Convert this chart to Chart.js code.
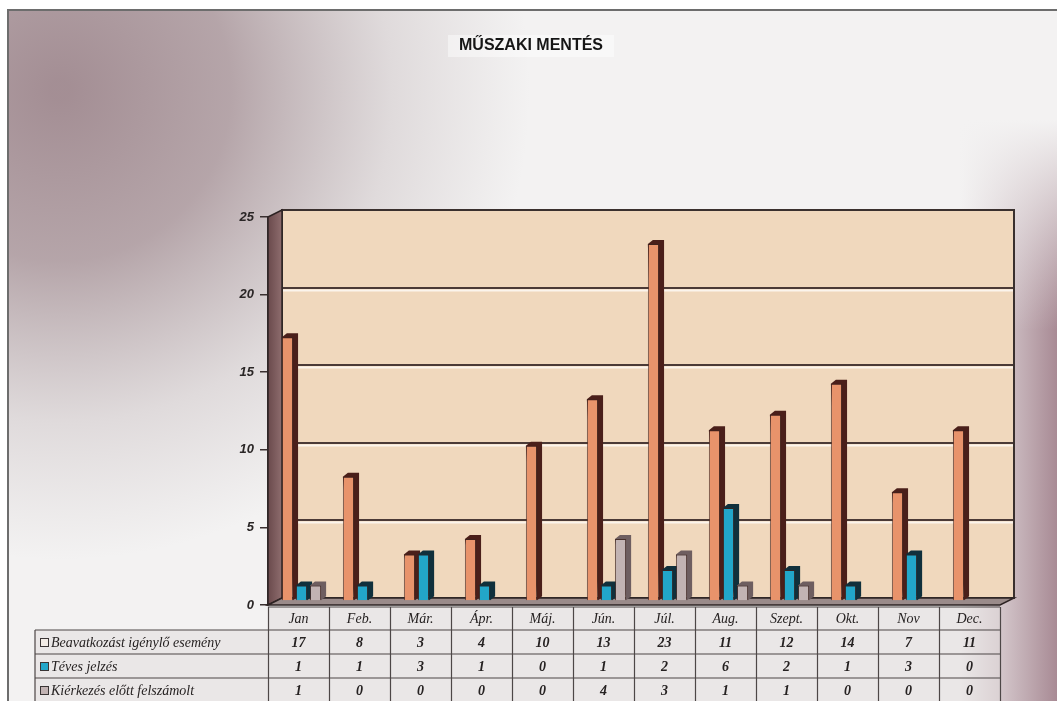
<!DOCTYPE html>
<html lang="hu">
<head>
<meta charset="utf-8">
<title>Műszaki mentés</title>
<script src="https://cdn.jsdelivr.net/npm/chart.js@4"></script>
<style>
  html, body { margin: 0; padding: 0; background: #fff; }
  #wrap { width: 1057px; height: 701px; }
</style>
</head>
<body>
<div id="wrap"><canvas id="mentesChart" width="1057" height="701"></canvas></div>
<script>
// adatok a táblázatból
const months = ['Jan', 'Feb.', 'Már.', 'Ápr.', 'Máj.', 'Jún.', 'Júl.', 'Aug.', 'Szept.', 'Okt.', 'Nov', 'Dec.'];
const beavatkozas = [17, 8, 3, 4, 10, 13, 23, 11, 12, 14, 7, 11];
const teves = [1, 1, 3, 1, 0, 1, 2, 6, 2, 1, 3, 0];
const kierkezes = [1, 0, 0, 0, 0, 4, 3, 1, 1, 0, 0, 0];
const seriesNames = ['Beavatkozást igénylő esemény', 'Téves jelzés', 'Kiérkezés előtt felszámolt'];
const chartTitle = 'MŰSZAKI MENTÉS';

const faceColors = ['#e8936b', '#22a6c9', '#c2b3b3'];
const sideColors = ['#4a1f1a', '#10303c', '#6e5e60'];
const DEPTH_X = 14, DEPTH_Y = 7;   // a hátfal eltolása
const BAR_DX = 5, BAR_DY = 4;      // oszlopok mélysége

const scenePlugin = {
    id: 'scene',
    beforeDraw(chart) {
        const ctx = chart.ctx;
        const w = chart.width, h = chart.height;
        ctx.save();
        ctx.fillStyle = '#f3f2f2';
        ctx.fillRect(0, 0, w, h);
        // mályva folt bal fent
        let g = ctx.createRadialGradient(60, 90, 10, 60, 90, 470);
        g.addColorStop(0, 'rgba(150,125,132,0.85)');
        g.addColorStop(0.35, 'rgba(155,132,138,0.7)');
        g.addColorStop(0.7, 'rgba(165,148,152,0.25)');
        g.addColorStop(1, 'rgba(170,155,158,0)');
        ctx.fillStyle = g;
        ctx.fillRect(0, 0, w, h);
        // jobb szél
        g = ctx.createLinearGradient(960, 0, 1057, 0);
        g.addColorStop(0, 'rgba(155,120,132,0)');
        g.addColorStop(1, 'rgba(155,120,132,0.85)');
        ctx.fillStyle = g;
        ctx.fillRect(960, 0, 97, h);
        g = ctx.createLinearGradient(0, 120, 0, 330);
        g.addColorStop(0, 'rgba(243,242,242,1)');
        g.addColorStop(1, 'rgba(243,242,242,0)');
        ctx.fillStyle = g;
        ctx.fillRect(960, 0, 97, 330);
        // lap széle
        ctx.fillStyle = '#ffffff';
        ctx.fillRect(0, 0, w, 9);
        ctx.fillRect(0, 0, 7, h);
        ctx.strokeStyle = '#6d6d6d';
        ctx.lineWidth = 2;
        ctx.beginPath();
        ctx.moveTo(7, 10); ctx.lineTo(w, 10);
        ctx.moveTo(8, 10); ctx.lineTo(8, h);
        ctx.stroke();
        // cím
        ctx.fillStyle = 'rgba(255,255,255,0.45)';
        ctx.fillRect(448, 35, 166, 22);
        ctx.font = 'bold 16px "Liberation Sans", Arial, sans-serif';
        ctx.fillStyle = '#161616';
        ctx.textAlign = 'center';
        ctx.textBaseline = 'middle';
        ctx.fillText(chartTitle, 531, 46);
        ctx.restore();
    },
    beforeDatasetsDraw(chart) {
        const ctx = chart.ctx;
        const a = chart.chartArea;
        const y = chart.scales.y;
        ctx.save();
        // hátfal
        ctx.fillStyle = '#f0d8bd';
        ctx.fillRect(a.left + DEPTH_X, a.top - DEPTH_Y, a.right - a.left, a.bottom - a.top);
        // rácsvonalak
        [5, 10, 15, 20].forEach(v => {
            const py = Math.round(y.getPixelForValue(v)) - DEPTH_Y;
            ctx.strokeStyle = '#4b3a36';
            ctx.lineWidth = 2;
            ctx.beginPath();
            ctx.moveTo(a.left + DEPTH_X, py); ctx.lineTo(a.right + DEPTH_X, py);
            ctx.stroke();
            ctx.strokeStyle = '#fbf4ec';
            ctx.lineWidth = 2;
            ctx.beginPath();
            ctx.moveTo(a.left + DEPTH_X, py + 2.5); ctx.lineTo(a.right + DEPTH_X, py + 2.5);
            ctx.stroke();
        });
        ctx.strokeStyle = '#3a302e';
        ctx.lineWidth = 2;
        ctx.strokeRect(a.left + DEPTH_X, a.top - DEPTH_Y, a.right - a.left, a.bottom - a.top);
        // bal fal
        const wg = ctx.createLinearGradient(a.left, 0, a.left + DEPTH_X, 0);
        wg.addColorStop(0, '#6a4a4c');
        wg.addColorStop(1, '#8e6d6e');
        ctx.fillStyle = wg;
        ctx.beginPath();
        ctx.moveTo(a.left, a.top);
        ctx.lineTo(a.left + DEPTH_X, a.top - DEPTH_Y);
        ctx.lineTo(a.left + DEPTH_X, a.bottom - DEPTH_Y);
        ctx.lineTo(a.left, a.bottom);
        ctx.closePath();
        ctx.fill();
        ctx.strokeStyle = '#2e2424';
        ctx.lineWidth = 1.5;
        ctx.stroke();
        // padló
        ctx.fillStyle = '#9a8b8a';
        ctx.beginPath();
        ctx.moveTo(a.left, a.bottom);
        ctx.lineTo(a.left + DEPTH_X, a.bottom - DEPTH_Y);
        ctx.lineTo(a.right + DEPTH_X, a.bottom - DEPTH_Y);
        ctx.lineTo(a.right, a.bottom);
        ctx.closePath();
        ctx.fill();
        ctx.stroke();

        // oszlopok oldala és teteje
        ctx.translate(3, -4);
        chart.data.datasets.forEach((ds, di) => {
            const meta = chart.getDatasetMeta(di);
            meta.data.forEach((bar, i) => {
                if (!ds.data[i]) return;
                const x0 = bar.x - bar.width / 2, x1 = bar.x + bar.width / 2;
                const top = bar.y, base = bar.base;
                ctx.fillStyle = sideColors[di];
                ctx.beginPath();
                ctx.moveTo(x0, top);
                ctx.lineTo(x0 + BAR_DX, top - BAR_DY);
                ctx.lineTo(x1 + BAR_DX, top - BAR_DY);
                ctx.lineTo(x1 + BAR_DX, base - BAR_DY);
                ctx.lineTo(x1, base);
                ctx.closePath();
                ctx.fill();
            });
        });
    },
    afterDatasetsDraw(chart) {
        chart.ctx.restore();
    },
    afterDraw(chart) {
        // adattáblázat
        const ctx = chart.ctx;
        const x = chart.scales.x;
        const a = chart.chartArea;
        const colW = (a.right - a.left) / months.length;
        const rows = [607, 630, 654, 678, 702];
        const labelLeft = 35;
        const values = [beavatkozas, teves, kierkezes];
        ctx.save();
        ctx.fillStyle = 'rgba(225,220,220,0.5)';
        ctx.fillRect(a.left, rows[0], a.right - a.left, rows[1] - rows[0]);
        ctx.fillRect(labelLeft, rows[1], a.right - labelLeft, rows[4] - rows[1]);
        ctx.strokeStyle = '#4d4747';
        ctx.lineWidth = 1.2;
        ctx.beginPath();
        ctx.moveTo(a.left, rows[0]); ctx.lineTo(a.right, rows[0]);
        for (let r = 1; r < rows.length; r++) {
            ctx.moveTo(labelLeft, rows[r]); ctx.lineTo(a.right, rows[r]);
        }
        ctx.moveTo(labelLeft, rows[1]); ctx.lineTo(labelLeft, rows[4]);
        for (let i = 0; i <= months.length; i++) {
            const cx = Math.round(a.left + i * colW) + 0.5;
            ctx.moveTo(cx, rows[0]); ctx.lineTo(cx, rows[4]);
        }
        ctx.stroke();

        ctx.fillStyle = '#262222';
        ctx.textBaseline = 'middle';
        ctx.textAlign = 'center';
        ctx.font = 'italic 14px "Liberation Serif", "Times New Roman", serif';
        months.forEach((m, i) => {
            ctx.fillText(m, x.getPixelForValue(i), (rows[0] + rows[1]) / 2 + 1);
        });
        ctx.font = 'italic bold 14px "Liberation Serif", "Times New Roman", serif';
        values.forEach((arr, r) => {
            arr.forEach((v, i) => {
                ctx.fillText(String(v), x.getPixelForValue(i), (rows[r + 1] + rows[r + 2]) / 2 + 1);
            });
        });
        // sorcímkék jelölővel
        ctx.textAlign = 'left';
        ctx.font = 'italic 14px "Liberation Serif", "Times New Roman", serif';
        seriesNames.forEach((name, r) => {
            const cy = (rows[r + 1] + rows[r + 2]) / 2;
            ctx.fillStyle = r === 0 ? '#f3ece6' : faceColors[r];
            ctx.fillRect(40, cy - 4, 8, 8);
            ctx.strokeStyle = '#3a3434';
            ctx.lineWidth = 1;
            ctx.strokeRect(40.5, cy - 3.5, 8, 8);
            ctx.fillStyle = '#262222';
            ctx.fillText(name, 51, cy + 1);
        });
        ctx.restore();
    }
};

document.addEventListener("DOMContentLoaded", function () {
    const ctx = document.getElementById('mentesChart').getContext('2d');
    new Chart(ctx, {
        type: 'bar',
        data: {
            labels: months,
            datasets: [
                { label: seriesNames[0], data: beavatkozas, backgroundColor: faceColors[0] },
                { label: seriesNames[1], data: teves, backgroundColor: faceColors[1] },
                { label: seriesNames[2], data: kierkezes, backgroundColor: faceColors[2] }
            ]
        },
        options: {
            responsive: false,
            animation: false,
            layout: { padding: { top: 217, right: 57, bottom: 96, left: 0 } },
            datasets: {
                bar: {
                    categoryPercentage: 0.69,
                    barPercentage: 0.8,
                    borderWidth: 1,
                    borderColor: 'rgba(60,35,30,0.8)'
                }
            },
            plugins: {
                legend: { display: false },
                title: { display: false },
                tooltip: { enabled: false }
            },
            scales: {
                x: { display: false },
                y: {
                    min: 0,
                    max: 25,
                    afterFit: function (scale) { scale.width = 268; },
                    ticks: {
                        stepSize: 5,
                        padding: 6,
                        color: '#2a2626',
                        font: { family: '"Liberation Sans", Arial, sans-serif', size: 13, style: 'italic', weight: 'bold' }
                    },
                    grid: { drawOnChartArea: false, tickLength: 8, color: '#3a3030', lineWidth: 1.5 },
                    border: { display: true, color: '#3a3030', width: 1.5 }
                }
            }
        },
        plugins: [scenePlugin]
    });
});
</script>
</body>
</html>
